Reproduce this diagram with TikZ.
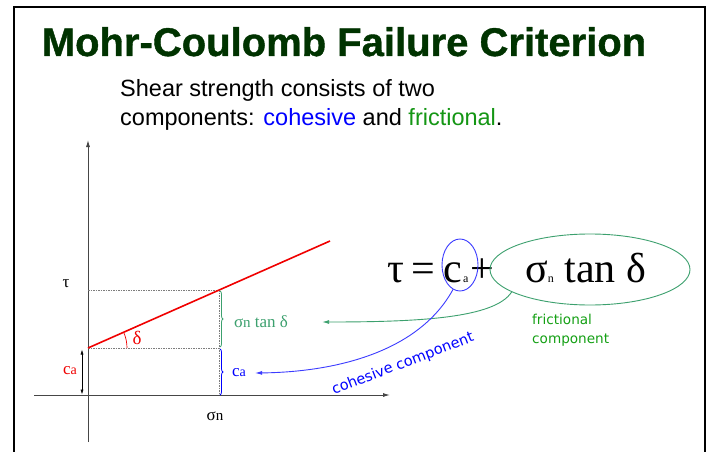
\documentclass[tikz,border=0pt]{standalone}
\usepackage{fontspec}
\setmainfont{Liberation Serif}
\newfontfamily\arialf{Liberation Sans}
\newfontfamily\titlef[FakeBold=1]{Liberation Sans Bold}
\newfontfamily\vfont{DejaVu Sans}
\usetikzlibrary{arrows.meta,shapes.geometric,decorations.pathreplacing}
\definecolor{titlegreen}{RGB}{0,51,0}
\definecolor{subblue}{RGB}{0,0,255}
\definecolor{subgreen}{RGB}{20,150,20}
\definecolor{mcteal}{RGB}{60,160,110}
\definecolor{fricgreen}{RGB}{20,160,20}
\definecolor{ellblue}{RGB}{60,60,255}
\definecolor{axisgray}{RGB}{70,70,70}
\definecolor{dotgray}{RGB}{125,125,125}
\definecolor{mcred}{RGB}{240,0,0}
\tikzset{
  axisline/.style={draw=axisgray, line width=0.9, -{Latex[length=7,width=4]}},
  dotline/.style={draw=dotgray, line width=0.7, dash pattern=on 1.5pt off 1pt},
  lab/.style={inner sep=0, font=\fontsize{17}{17}\selectfont},
  eqtxt/.style={inner sep=0, anchor=base west, font=\fontsize{42}{42}\selectfont},
  eqsub/.style={inner sep=0, anchor=base west, font=\fontsize{12}{12}\selectfont},
  arrowline/.style={line width=0.9, -{Latex[length=7,width=4]}},
  bracedec/.style={decorate, decoration={brace, amplitude=3pt}, line width=0.8}
}
\begin{document}
\begin{tikzpicture}[x=1pt,y=-1pt]
\useasboundingbox (0,0) rectangle (712,452);
\fill[white] (0,0) rectangle (712,452);
% frame
\draw[line width=2] (14,462) -- (14,7) -- (705,7) -- (705,462);
% title and subtitle
\node[anchor=base, inner sep=0, font=\titlef\fontsize{40}{48}\selectfont, text=titlegreen] (title) at (344,56) {Mohr-Coulomb Failure Criterion};
\node[anchor=base west, inner sep=0, font=\arialf\fontsize{23.5}{28}\selectfont] (sub1) at (120,96) {Shear strength consists of two};
\node[anchor=base west, inner sep=0, font=\arialf\fontsize{23.5}{28}\selectfont] (sub2) at (120,125) {components: \textcolor{subblue}{cohesive} and \textcolor{subgreen}{frictional}.};
% axes
\coordinate (O) at (88,395);
\coordinate (ytop) at (88,140);
\coordinate (ybot) at (88,442);
\coordinate (xl) at (34,395);
\coordinate (xr) at (390,395);
\draw[axisline] (ybot) -- (ytop);
\draw[axisline] (xl) -- (xr);
% points
\coordinate (A) at (88,348);
\coordinate (P) at (219,290);
\coordinate (E) at (330,241);
\coordinate (Pb) at (219,395);
% dotted guides
\draw[dotline] (88,290) -- (P);
\draw[dotline] (A) -- (219,348);
\draw[dotline] (P) -- (Pb);
% failure line
\draw[mcred, line width=1.6] (A) -- (E);
\draw[mcred, line width=0.7] (127,348) arc[start angle=0, end angle=-23.85, radius=39];
% double arrow for ca
\draw[line width=0.6, {Latex[length=5,width=3]}-{Latex[length=5,width=3]}] (82,349.5) -- (82,394.5);
% braces
\draw[bracedec, mcteal] (220,291) -- (220,347);
\draw[bracedec, subblue] (220,349) -- (220,395);
% labels
\node[lab] (taulab) at (66,284) {τ};
\node[lab, text=mcred] (cared) at (70,371) {c{\fontsize{14}{14}\selectfont a}};
\node[lab, text=mcred, font=\fontsize{19}{19}\selectfont] (dlab) at (137,338) {δ};
\node[lab, text=mcteal] (siglab) at (261,322) {σ{\fontsize{15}{15}\selectfont n} tan δ};
\node[lab, text=subblue] (cablue) at (239,373) {c{\fontsize{14}{14}\selectfont a}};
\node[lab] (snlab) at (215,416) {σ{\fontsize{15}{15}\selectfont n}};
% equation
\node[eqtxt] (tau) at (387,282) {τ};
\node[eqtxt] (eqs) at (411,282) {=};
\node[eqtxt] (cc) at (443,282) {c};
\node[eqsub] (ca) at (463,282) {a};
\node[eqtxt] (plus) at (470,282) {+};
\node[eqtxt] (fr) at (525,282) {σ{\fontsize{12}{12}\selectfont n} tan δ};
% ellipses
\node[ellipse, draw=ellblue, line width=0.9, minimum width=36, minimum height=52, inner sep=0] (cel) at (460,265) {};
\node[ellipse, draw=mcteal, line width=0.9, minimum width=200, minimum height=71, inner sep=0] (fel) at (590,269.5) {};
% component labels
\node[anchor=base west, inner sep=0, font=\vfont\fontsize{13.6}{19}\selectfont, text=fricgreen] (fric1) at (532,324) {frictional};
\node[anchor=base west, inner sep=0, font=\vfont\fontsize{13.6}{19}\selectfont, text=fricgreen] (fric2) at (532,343) {component};
\node[inner sep=0, rotate=21, font=\vfont\fontsize{14.5}{16}\selectfont, text=subblue] (coh) at (403,364) {cohesive component};
% connectors
\draw[arrowline, mcteal] (fel.196) .. controls (495,318) and (420,322) .. ([xshift=34]siglab.east);
\draw[arrowline, ellblue] (cel.254) .. controls (420,350) and (340,372) .. ([xshift=9]cablue.east);
\end{tikzpicture}
\end{document}
